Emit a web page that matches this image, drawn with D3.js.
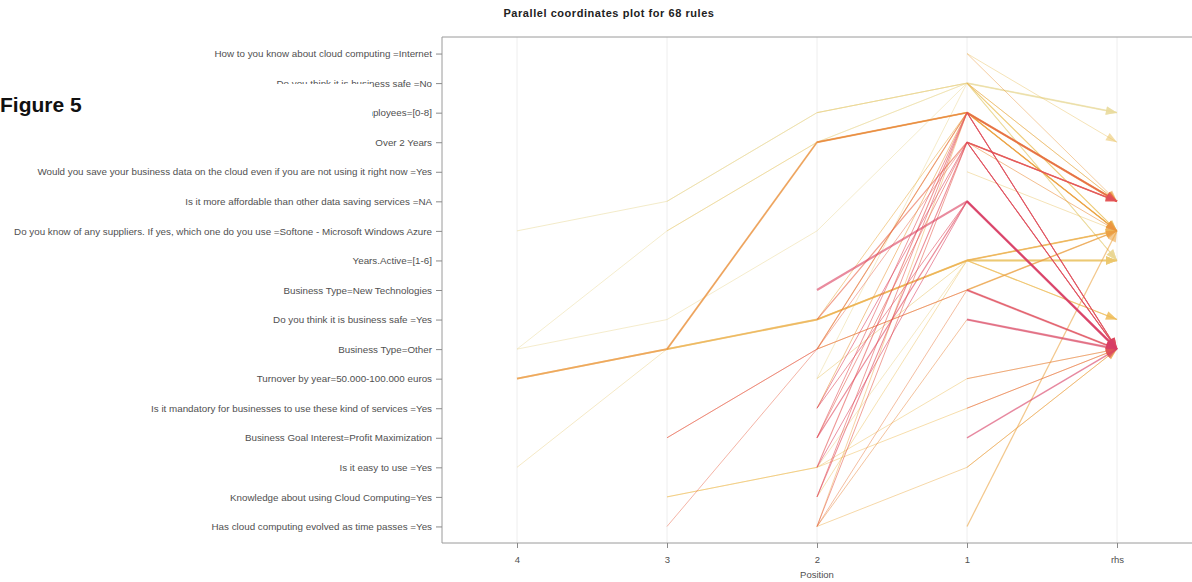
<!DOCTYPE html>
<html>
<head>
<meta charset="utf-8">
<script src="https://cdn.jsdelivr.net/npm/d3@7"></script>
<style>
  html, body { margin: 0; padding: 0; background: #fff; }
  svg { display: block; }
</style>
</head>
<body>
<svg id="chart" width="1192" height="582"></svg>
<script>
// Items shown on the vertical axis (top to bottom)
const itemLabels = [
  "How to you know about cloud computing =Internet",
  "Do you think it is business safe =No",
  "Employees=[0-8]",
  "Over 2 Years",
  "Would you save your business data on the cloud even if you are not using it right now =Yes",
  "Is it more affordable than other data saving services =NA",
  "Do you know of any suppliers. If yes, which one do you use =Softone - Microsoft Windows Azure",
  "Years.Active=[1-6]",
  "Business Type=New Technologies",
  "Do you think it is business safe =Yes",
  "Business Type=Other",
  "Turnover by year=50.000-100.000 euros",
  "Is it mandatory for businesses to use these kind of services =Yes",
  "Business Goal Interest=Profit Maximization",
  "Is it easy to use =Yes",
  "Knowledge about using Cloud Computing=Yes",
  "Has cloud computing evolved as time passes =Yes"
];

// Positions along the horizontal axis
const positionLabels = ["4", "3", "2", "1", "rhs"];

// Left-hand sides of the rules (item indices, leftmost position first; last item sits at position 1)
const ruleLhs = [
  [6,5,2,1], [10,9,6,1], [11,10,3,2], [14,10,9,7], [11,10,9,7], [10,6,3,1],
  [13,10,8], [15,14,11], [16,10,3], [5,2,1], [6,3,2], [10,9,7], [10,3,2], [13,10,2], [15,14,12],
  [8,5], [3,2], [15,3], [14,2], [16,3], [13,5], [12,2], [11,7], [9,3], [10,2], [16,14], [2,1],
  [9,7], [12,3], [14,5], [15,2], [13,3], [16,2], [9,2], [11,1], [14,7], [12,5], [3,1], [16,8],
  [15,7], [10,8], [13,2], [16,9],
  [0], [0], [1], [1], [1], [2], [2], [2], [3], [3], [5], [7], [7], [8], [8], [9], [11], [12],
  [13], [16], [14], [4], [1], [3], [7]
];

// Right-hand side item of each rule
const ruleRhs = [
  2, 7, 5, 6, 6, 6,
  10, 10, 10, 5, 6, 7, 5, 10, 10,
  10, 5, 5, 10, 10, 10, 6, 7, 5, 6, 10, 6,
  9, 10, 10, 5, 5, 6, 6, 7, 7, 10, 2, 10,
  6, 6, 10, 10,
  3, 5, 2, 6, 7, 5, 10, 6, 5, 10, 10, 7, 9, 6, 10, 10, 10, 10,
  10, 6, 10, 6, 5, 6, 6
];

// Lift of each rule (drives the colour)
const ruleLift = [
  1.05, 1.15, 2.05, 1.25, 1.85, 1.10,
  2.45, 1.60, 2.50, 1.10, 1.40, 1.55, 2.10, 2.60, 1.70,
  2.90, 2.20, 2.80, 2.70, 2.60, 2.85, 2.00, 1.40, 2.50, 1.90, 1.80, 1.30,
  1.70, 2.90, 2.90, 2.70, 2.60, 1.90, 1.80, 1.20, 1.30, 2.80, 1.10, 2.30,
  1.60, 2.00, 2.75, 2.20,
  1.50, 2.00, 1.00, 1.60, 1.20, 2.30, 2.90, 1.80, 2.60, 2.80, 3.00, 1.30, 1.70, 1.90, 2.90, 3.00, 2.40, 2.50,
  2.95, 1.90, 2.00, 1.50, 1.90, 2.10, 1.60
];

// Support of each rule (drives the line width)
const ruleSupport = [
  0.06, 0.05, 0.12, 0.05, 0.11, 0.05,
  0.05, 0.05, 0.05, 0.06, 0.05, 0.13, 0.07, 0.05, 0.05,
  0.14, 0.09, 0.07, 0.07, 0.06, 0.08, 0.06, 0.06, 0.08, 0.07, 0.05, 0.06,
  0.07, 0.06, 0.06, 0.06, 0.06, 0.05, 0.06, 0.05, 0.05, 0.06, 0.05, 0.05,
  0.05, 0.06, 0.06, 0.05,
  0.05, 0.05, 0.12, 0.08, 0.07, 0.14, 0.05, 0.09, 0.10, 0.07, 0.15, 0.13, 0.07, 0.10, 0.13, 0.14, 0.05, 0.06,
  0.09, 0.08, 0.05, 0.05, 0.06, 0.06, 0.06
];

const svg = d3.select("#chart");
const plot = { left: 442, right: 1192, top: 37, bottom: 543 };
const font = "'Liberation Sans', Arial, Helvetica, sans-serif";

const x = d3.scalePoint()
  .domain(positionLabels)
  .range([plot.left, plot.right])
  .padding(0.5);

const y = d3.scalePoint()
  .domain(itemLabels)
  .range([plot.top, plot.bottom])
  .padding(0.56);

const liftExtent = d3.extent(ruleLift);
const span = liftExtent[1] - liftExtent[0];
const color = d3.scaleLinear()
  .domain([liftExtent[0], liftExtent[0] + span * 0.35, liftExtent[0] + span * 0.6, liftExtent[1]])
  .range(["#EADFA8", "#EEBB55", "#E8843A", "#D63C68"])
  .interpolate(d3.interpolateHcl);

const width = d3.scaleLinear()
  .domain(d3.extent(ruleSupport))
  .range([0.8, 2.3]);

// Vertical guide lines at each position
svg.append("g")
  .selectAll("line")
  .data(positionLabels)
  .join("line")
  .attr("x1", d => x(d)).attr("x2", d => x(d))
  .attr("y1", plot.top).attr("y2", plot.bottom)
  .attr("stroke", "#eeeeee")
  .attr("stroke-width", 1);

// Rules: build polylines, drawn low lift first so the strongest rules sit on top
const rules = ruleLhs.map((lhs, i) => {
  const pos = positionLabels.slice(4 - lhs.length, 4);
  const pts = lhs.map((item, j) => [x(pos[j]), y(itemLabels[item])]);
  pts.push([x("rhs"), y(itemLabels[ruleRhs[i]])]);
  return { pts, lift: ruleLift[i], support: ruleSupport[i] };
}).sort((a, b) => a.lift - b.lift);

const line = d3.line();
const ruleG = svg.append("g").attr("fill", "none");

rules.forEach(r => {
  const c = color(r.lift);
  const w = width(r.support);
  ruleG.append("path")
    .attr("d", line(r.pts))
    .attr("stroke", c)
    .attr("stroke-width", w)
    .attr("stroke-opacity", 0.62)
    .attr("stroke-linejoin", "round");
  // Arrowhead at the right-hand side item
  const [x1, y1] = r.pts[r.pts.length - 2];
  const [x2, y2] = r.pts[r.pts.length - 1];
  const ang = Math.atan2(y2 - y1, x2 - x1);
  const len = 11, half = 4.2;
  const bx = x2 - len * Math.cos(ang), by = y2 - len * Math.sin(ang);
  const px = -Math.sin(ang) * half, py = Math.cos(ang) * half;
  ruleG.append("path")
    .attr("d", `M${x2},${y2}L${bx + px},${by + py}L${bx - px},${by - py}Z`)
    .attr("fill", c)
    .attr("fill-opacity", 0.6)
    .attr("stroke", "none");
});

// Frame
svg.append("path")
  .attr("d", `M${plot.right},${plot.top}H${plot.left}V${plot.bottom}H${plot.right}`)
  .attr("stroke", "#9a9a9a")
  .attr("stroke-width", 1)
  .attr("fill", "none");

// Axes
const yAxis = svg.append("g")
  .attr("transform", `translate(${plot.left},0)`)
  .call(d3.axisLeft(y).tickSize(6).tickPadding(4));
yAxis.select(".domain").remove();
yAxis.selectAll(".tick line").attr("stroke", "#8a8a8a");
yAxis.selectAll(".tick text")
  .attr("fill", "#505050")
  .style("font-family", font)
  .style("font-size", "9.8px");

const xAxis = svg.append("g")
  .attr("transform", `translate(0,${plot.bottom})`)
  .call(d3.axisBottom(x).tickSize(5).tickPadding(8));
xAxis.select(".domain").remove();
xAxis.selectAll(".tick line").attr("stroke", "#8a8a8a");
xAxis.selectAll(".tick text")
  .attr("fill", "#505050")
  .style("font-family", font)
  .style("font-size", "9.5px");

// Axis title
svg.append("text")
  .attr("x", (plot.left + plot.right) / 2)
  .attr("y", 578)
  .attr("text-anchor", "middle")
  .attr("fill", "#505050")
  .style("font-family", font)
  .style("font-size", "9.5px")
  .text("Position");

// Main title
svg.append("text")
  .attr("x", 609)
  .attr("y", 17)
  .attr("text-anchor", "middle")
  .attr("fill", "#222")
  .style("font-family", font)
  .style("font-size", "11px")
  .style("font-weight", "bold")
  .style("letter-spacing", "0.55px")
  .text(`Parallel coordinates plot for ${ruleRhs.length} rules`);

// Figure caption panel
svg.append("rect")
  .attr("x", 0).attr("y", 84)
  .attr("width", 372).attr("height", 50)
  .attr("fill", "#fff");
svg.append("text")
  .attr("x", 0)
  .attr("y", 112)
  .attr("fill", "#111")
  .style("font-family", font)
  .style("font-size", "21px")
  .style("font-weight", "bold")
  .text("Figure 5");
</script>
</body>
</html>
